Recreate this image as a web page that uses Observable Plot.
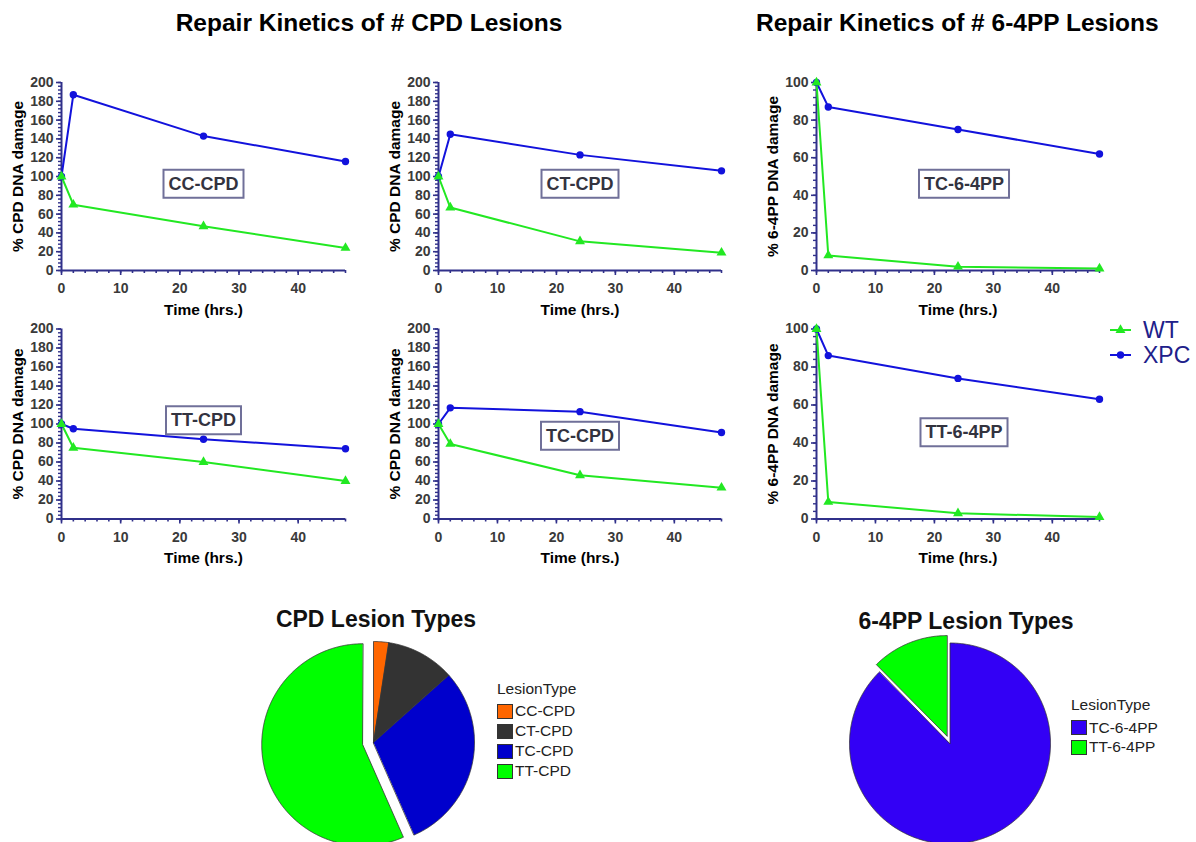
<!DOCTYPE html>
<html><head><meta charset="utf-8">
<script src="https://cdn.jsdelivr.net/npm/d3@7"></script>
<script src="https://cdn.jsdelivr.net/npm/@observablehq/plot@0.6"></script>
<style>
html,body{margin:0;padding:0;background:#fff;}
body{width:1196px;height:842px;position:relative;overflow:hidden;font-family:"Liberation Sans",Arial,Helvetica,sans-serif;}
.abs{position:absolute;}
.title{font-weight:bold;font-size:24.5px;color:#000;text-align:center;line-height:30px;white-space:nowrap;}
.ptitle{font-weight:bold;font-size:23px;color:#111;text-align:center;line-height:28px;white-space:nowrap;}
.leg{font-size:15.5px;color:#222;white-space:nowrap;}
.leg .lt{line-height:20px;height:20px;}
.leg .row{display:flex;align-items:center;}
.leg .sw{width:14px;height:13px;border:1px solid #333;margin-right:2px;}
</style></head><body>
<script>
// ---------- data ----------
const times = [0, 2, 24, 48];
const seriesNames = ["XPC", "WT"];
const legendOrder = ["WT", "XPC"];

const ccCpdXPC = [100, 187, 143, 116];
const ccCpdWT  = [100, 70, 47, 24];
const ctCpdXPC = [100, 145, 123, 106];
const ctCpdWT  = [100, 67, 31, 19];
const tc64XPC  = [100, 87, 75, 62];
const tc64WT   = [100, 8, 2, 1];
const ttCpdXPC = [100, 95, 84, 74];
const ttCpdWT  = [100, 75, 60, 40];
const tcCpdXPC = [100, 117, 113, 91];
const tcCpdWT  = [100, 79, 46, 33];
const tt64XPC  = [100, 86, 74, 63];
const tt64WT   = [100, 9, 3, 1];

const xMajorTicks = [0, 10, 20, 30, 40];

const cpdTypes  = ["CC-CPD", "CT-CPD", "TC-CPD", "TT-CPD"];
const cpdShares = [2.4, 11.0, 30.0, 56.6];
const pp64Types  = ["TC-6-4PP", "TT-6-4PP"];
const pp64Shares = [87.6, 12.4];

// ---------- style ----------
const FONT = '"Liberation Sans", Arial, Helvetica, sans-serif';
const NAVY = "#30308a";
const TICKTXT = "#3a3a3a";
const BLUE = "#1212dc";
const GREEN = "#22e822";
const cpdColors = ["#ff6600", "#333333", "#0000cc", "#00ff00"];
const pp64Colors = ["#3300f5", "#00ff00"];

function place(el, left, top) {
  const d = document.createElement("div");
  d.className = "abs";
  d.style.left = left + "px"; d.style.top = top + "px";
  d.appendChild(el);
  document.body.appendChild(d);
  return d;
}
function textDiv(cls, txt, left, top, width) {
  const d = document.createElement("div");
  d.className = "abs " + cls;
  d.style.left = left + "px"; d.style.top = top + "px"; d.style.width = width + "px";
  d.textContent = txt;
  document.body.appendChild(d);
}

textDiv("title", "Repair Kinetics of # CPD Lesions", 0, 8, 738);
textDiv("title", "Repair Kinetics of # 6-4PP Lesions", 756, 8, 400);

const panels = [
  {name: "CC-CPD", xpc: ccCpdXPC, wt: ccCpdWT, ymax: 200, ylabel: "% CPD DNA damage", left: 0, top: 70, ml: 61, mr: 15, mt: 12, mb: 50, dx: 0, dy: 7.5},
  {name: "CT-CPD", xpc: ctCpdXPC, wt: ctCpdWT, ymax: 200, ylabel: "% CPD DNA damage", left: 380, top: 70, ml: 58, mr: 19, mt: 12, mb: 50, dx: 0, dy: 7.5},
  {name: "TC-6-4PP", xpc: tc64XPC, wt: tc64WT, ymax: 100, ylabel: "% 6-4PP DNA damage", left: 750, top: 70, ml: 66, mr: 11, mt: 12, mb: 50, dx: 6, dy: 7.5},
  {name: "TT-CPD", xpc: ttCpdXPC, wt: ttCpdWT, ymax: 200, ylabel: "% CPD DNA damage", left: 0, top: 320, ml: 61, mr: 15, mt: 8.5, mb: 51.5, dx: 0, dy: -3.5},
  {name: "TC-CPD", xpc: tcCpdXPC, wt: tcCpdWT, ymax: 200, ylabel: "% CPD DNA damage", left: 380, top: 320, ml: 58, mr: 19, mt: 8.5, mb: 51.5, dx: 0, dy: 12},
  {name: "TT-6-4PP", xpc: tt64XPC, wt: tt64WT, ymax: 100, ylabel: "% 6-4PP DNA damage", left: 750, top: 320, ml: 66, mr: 11, mt: 8.5, mb: 51.5, dx: 6, dy: 8.5}
];

function addBox(svg, label) {
  const t = [...svg.querySelectorAll("text")].find(e => e.textContent === label);
  if (!t) return;
  const b = t.getBBox();
  const r = document.createElementNS("http://www.w3.org/2000/svg", "rect");
  r.setAttribute("x", b.x - 5); r.setAttribute("y", b.y - 4);
  r.setAttribute("width", b.width + 10); r.setAttribute("height", b.height + 8);
  r.setAttribute("fill", "#fff"); r.setAttribute("stroke", "#707099"); r.setAttribute("stroke-width", 2);
  if (t.getAttribute("transform")) r.setAttribute("transform", t.getAttribute("transform"));
  t.parentNode.insertBefore(r, t);
}

panels.forEach(p => {
  const rows = [];
  seriesNames.forEach(s => {
    const vals = s === "XPC" ? p.xpc : p.wt;
    times.forEach((t, i) => rows.push({series: s, time: t, value: vals[i]}));
  });
  const chart = Plot.plot({
    width: 360, height: 250,
    marginLeft: p.ml, marginRight: p.mr, marginTop: p.mt, marginBottom: p.mb,
    style: {fontFamily: FONT, background: "transparent", overflow: "visible"},
    x: {domain: [0, 48]},
    y: {domain: [0, p.ymax]},
    color: {domain: ["WT", "XPC"], range: [GREEN, BLUE]},
    symbol: {domain: ["WT", "XPC"], range: ["triangle", "circle"]},
    marks: [
      Plot.axisX(d3.range(0, 49, 2), {tickSize: 3, fill: "none", stroke: NAVY, strokeWidth: 1.6, label: null}),
      Plot.axisX(xMajorTicks, {tickSize: 5, tickPadding: 8, stroke: NAVY, strokeWidth: 1.6, fill: TICKTXT, fontSize: 14, fontWeight: "bold", label: null}),
      Plot.axisX([], {tickSize: 0, label: "Time (hrs.)", labelAnchor: "center", labelOffset: 44, labelArrow: "none", fill: "#000", fontSize: 15.5, fontWeight: "bold"}),
      Plot.axisY(d3.range(0, p.ymax + 1, 4), {tickSize: 3, fill: "none", stroke: NAVY, strokeWidth: 1.4, label: null}),
      Plot.axisY(d3.range(0, p.ymax + 1, 20), {tickSize: 5, tickPadding: 3, stroke: NAVY, strokeWidth: 1.6, fill: TICKTXT, fontSize: 14, fontWeight: "bold", label: null}),
      Plot.axisY([], {tickSize: 0, label: p.ylabel, labelAnchor: "center", labelOffset: 50, labelArrow: "none", fill: "#000", fontSize: 15.5, fontWeight: "bold"}),
      Plot.ruleX([0], {stroke: NAVY, strokeWidth: 2}),
      Plot.ruleY([0], {stroke: NAVY, strokeWidth: 2}),
      Plot.line(rows, {x: "time", y: "value", z: "series", stroke: "series", strokeWidth: 2}),
      Plot.dot(rows, {x: "time", y: "value", fill: "series", symbol: "series", r: 3.7, stroke: "none"}),
      Plot.text([p.name], {frameAnchor: "middle", dx: p.dx, dy: p.dy, fontSize: 18, fontWeight: "bold", fill: "#33333f"})
    ]
  });
  place(chart, p.left, p.top);
  addBox(chart, p.name);
});

// WT / XPC legend
(function () {
  const svg = d3.create("svg").attr("width", 96).attr("height", 60).style("overflow", "visible");
  const colorOf = {WT: GREEN, XPC: BLUE};
  const symOf = {WT: d3.symbolTriangle, XPC: d3.symbolCircle};
  legendOrder.forEach((s, i) => {
    const cy = 20 + i * 25;
    svg.append("line").attr("x1", 10).attr("x2", 31).attr("y1", cy).attr("y2", cy)
      .attr("stroke", colorOf[s]).attr("stroke-width", 2);
    svg.append("path").attr("d", d3.symbol(symOf[s], Math.PI * 3.7 * 3.7)())
      .attr("transform", `translate(20.5,${cy})`).attr("fill", colorOf[s]);
    svg.append("text").attr("x", 43).attr("y", cy + 8.2).attr("font-size", 23)
      .attr("font-family", FONT).attr("fill", "#20208a").text(s);
  });
  place(svg.node(), 1100, 310);
})();

// ---------- pies ----------
function piePoints(values, names, explode, R) {
  const arcs = d3.pie().sort(null)(values);
  const pts = [];
  arcs.forEach((a, i) => {
    const mid = (a.startAngle + a.endAngle) / 2;
    const e = explode[i] || 0;
    const cx = e * Math.sin(mid), cy = e * Math.cos(mid);
    pts.push({type: names[i], x: cx, y: cy});
    const n = Math.max(2, Math.ceil((a.endAngle - a.startAngle) / (Math.PI / 360)));
    for (let k = 0; k <= n; k++) {
      const t = a.startAngle + (a.endAngle - a.startAngle) * k / n;
      pts.push({type: names[i], x: cx + R * Math.sin(t), y: cy + R * Math.cos(t)});
    }
  });
  return pts;
}

function pie(values, names, colors, explode, R, xdom, left, top) {
  const pts = piePoints(values, names, explode, R);
  const chart = Plot.plot({
    width: 250, height: 212, margin: 0,
    style: {background: "transparent", overflow: "visible"},
    x: {domain: xdom, axis: null},
    y: {domain: [-100, 112], axis: null},
    color: {domain: names, range: colors},
    marks: [
      Plot.line(pts, {x: "x", y: "y", z: "type", fill: "type", stroke: "#333", strokeWidth: 0.8, curve: "linear-closed"})
    ]
  });
  place(chart, left, top);
}

function pieLegend(names, colors, left, top, rowH, gap) {
  const d = document.createElement("div");
  d.className = "abs leg";
  d.style.left = left + "px"; d.style.top = top + "px";
  const t = document.createElement("div"); t.className = "lt"; t.textContent = "LesionType";
  t.style.marginBottom = gap + "px";
  d.appendChild(t);
  names.forEach((n, i) => {
    const r = document.createElement("div"); r.className = "row"; r.style.height = rowH + "px";
    const s = document.createElement("div"); s.className = "sw"; s.style.background = colors[i];
    const l = document.createElement("span"); l.textContent = n;
    r.appendChild(s); r.appendChild(l); d.appendChild(r);
  });
  document.body.appendChild(d);
}

textDiv("ptitle", "CPD Lesion Types", 226, 605, 300);
pie(cpdShares, cpdTypes, cpdColors, [0, 0, 0, 11], 101, [-123, 127], 250, 630);
pieLegend(cpdTypes, cpdColors, 497, 679, 20, 2);

textDiv("ptitle", "6-4PP Lesion Types", 816, 607, 300);
pie(pp64Shares, pp64Types, pp64Colors, [0, 8], 100.5, [-119.5, 130.5], 830, 631);
pieLegend(pp64Types, pp64Colors, 1071, 695, 19.5, 3);
</script>
</body></html>
